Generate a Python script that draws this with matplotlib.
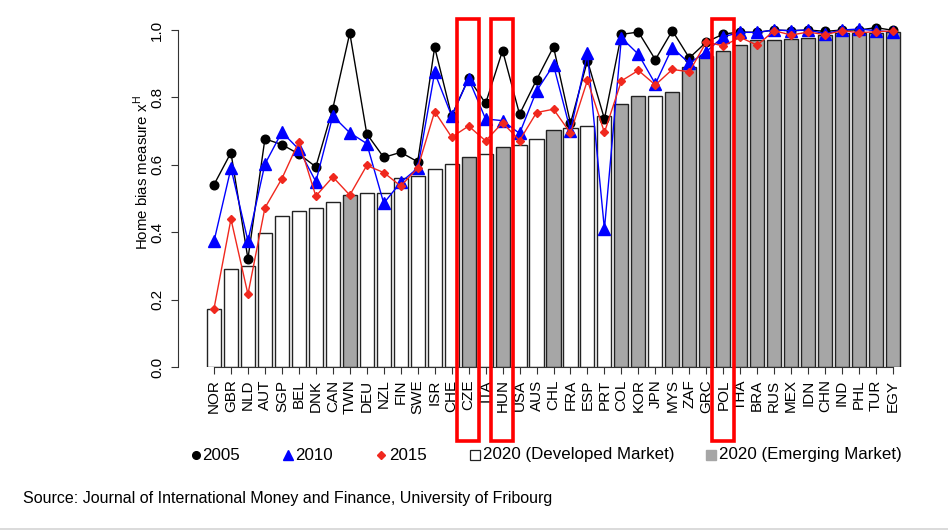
import matplotlib
matplotlib.use("Agg")
import matplotlib.pyplot as plt
import matplotlib.transforms as mtransforms
from matplotlib.patches import Rectangle
from matplotlib.lines import Line2D
import numpy as np

plt.rcParams['font.family'] = ['Liberation Sans', 'DejaVu Sans']
plt.rcParams['mathtext.fontset'] = 'custom'
plt.rcParams['mathtext.rm'] = 'Liberation Sans'

countries = ["NOR", "GBR", "NLD", "AUT", "SGP", "BEL", "DNK", "CAN", "TWN", "DEU",
             "NZL", "FIN", "SWE", "ISR", "CHE", "CZE", "ITA", "HUN", "USA", "AUS",
             "CHL", "FRA", "ESP", "PRT", "COL", "KOR", "JPN", "MYS", "ZAF", "GRC",
             "POL", "THA", "BRA", "RUS", "MEX", "IDN", "CHN", "IND", "PHL", "TUR", "EGY"]

emerging = ["TWN", "CZE", "HUN", "CHL", "COL", "KOR", "MYS", "ZAF", "GRC", "POL",
            "THA", "BRA", "RUS", "MEX", "IDN", "CHN", "IND", "PHL", "TUR", "EGY"]

hb2020 = [0.173, 0.291, 0.301, 0.398, 0.447, 0.464, 0.473, 0.489, 0.510, 0.515,
          0.516, 0.562, 0.566, 0.589, 0.603, 0.622, 0.632, 0.653, 0.659, 0.678,
          0.704, 0.708, 0.716, 0.745, 0.779, 0.804, 0.805, 0.815, 0.890, 0.924,
          0.938, 0.955, 0.971, 0.971, 0.974, 0.976, 0.985, 0.992, 0.992, 0.992, 0.994]

hb2005 = [0.541, 0.636, 0.321, 0.677, 0.660, 0.632, 0.594, 0.767, 0.991, 0.692,
          0.622, 0.637, 0.609, 0.949, 0.745, 0.857, 0.782, 0.939, 0.750, 0.852,
          0.950, 0.723, 0.909, 0.736, 0.987, 0.994, 0.912, 0.998, 0.917, 0.964,
          0.988, 0.994, 0.993, 1.000, 0.998, 1.000, 0.996, 1.000, 1.000, 1.007, 0.999]

hb2010 = [0.373, 0.590, 0.374, 0.602, 0.697, 0.646, 0.550, 0.745, 0.695, 0.663,
          0.486, 0.548, 0.590, 0.874, 0.745, 0.855, 0.736, 0.731, 0.693, 0.819,
          0.896, 0.701, 0.931, 0.409, 0.977, 0.928, 0.840, 0.948, 0.901, 0.936,
          0.980, 0.993, 0.993, 1.000, 0.998, 1.000, 0.989, 1.000, 1.003, 0.998, 0.994]

hb2015 = [0.173, 0.439, 0.216, 0.472, 0.559, 0.669, 0.507, 0.564, 0.510, 0.598,
          0.577, 0.537, 0.590, 0.758, 0.682, 0.715, 0.671, 0.725, 0.672, 0.755,
          0.765, 0.694, 0.851, 0.696, 0.849, 0.880, 0.837, 0.883, 0.876, 0.964,
          0.953, 0.978, 0.955, 0.998, 0.985, 0.994, 0.986, 0.998, 0.992, 0.995, 0.997]

highlighted = ["CZE", "HUN", "POL"]

yticks = [0.0, 0.2, 0.4, 0.6, 0.8, 1.0]
ytick_labels = ["0.0", "0.2", "0.4", "0.6", "0.8", "1.0"]

legend_labels = ["2005", "2010", "2015", "2020 (Developed Market)", "2020 (Emerging Market)"]
source_text = "Source: Journal of International Money and Finance, University of Fribourg"

GRAY = "#a6a6a6"
RED = "#f0281e"
BLUE = "#0000ff"

W, H = 948, 531
fig = plt.figure(figsize=(W / 100, H / 100), dpi=100)
ax = fig.add_axes([178 / W, (H - 367) / H, (929 - 178) / W, 337 / H])

x = np.arange(len(countries))
colors = [GRAY if c in emerging else "white" for c in countries]
ax.bar(x, hb2020, width=0.83, color=colors, edgecolor="#222222", linewidth=1.0, zorder=1)

ax.plot(x, hb2005, color="black", lw=1.0, marker="o", ms=6.2, mfc="black", mec="black",
        zorder=3, clip_on=False)
ax.plot(x, hb2010, color=BLUE, lw=1.0, marker="^", ms=8, mfc=BLUE, mec=BLUE,
        zorder=4, clip_on=False)
ax.plot(x, hb2015, color=RED, lw=1.0, marker="D", ms=4.5, mfc=RED, mec=RED,
        zorder=5, clip_on=False)

ax.set_xlim(-2.12, len(countries) - 1 + 2.12)
ax.set_ylim(0, 1)

for s in ["top", "right"]:
    ax.spines[s].set_visible(False)
ax.spines["left"].set_bounds(0, 1)
ax.spines["bottom"].set_bounds(0, len(countries) - 1)
ax.spines["left"].set_color("#333333")
ax.spines["bottom"].set_color("#333333")

ax.set_yticks(yticks)
ax.set_yticklabels(ytick_labels, rotation=90, va="center", fontsize=11)
ax.set_xticks(x)
ax.set_xticklabels(countries, rotation=90, fontsize=11, va="top", ha="center")
ax.tick_params(axis="both", direction="out", length=5, width=0.8, color="#333333")
ax.tick_params(axis="y", pad=5)
ax.tick_params(axis="x", pad=4)

fig.text(141 / W, 1 - 173 / H, r"Home bias measure x$^{\mathrm{H}}$", rotation=90,
         ha="center", va="center", fontsize=10.8)

# red highlight boxes
trans = mtransforms.blended_transform_factory(ax.transData, ax.transAxes)
y_lo = (367 - 441) / 337
y_hi = (367 - 19) / 337
for c in highlighted:
    i = countries.index(c)
    r = Rectangle((i - 0.68, y_lo), 1.3, y_hi - y_lo, transform=trans, fill=False,
                  edgecolor="#ff0000", linewidth=2.6, clip_on=False, zorder=10)
    ax.add_patch(r)

# legend (manual)
ly = 1 - 455 / H
marker_x = [196, 288, 381, 475, 711]
text_x = [202, 295, 389, 483, 719]
mk = [dict(marker="o", ms=5.5, mfc="black", mec="black"),
      dict(marker="^", ms=7, mfc=BLUE, mec=BLUE),
      dict(marker="D", ms=4.2, mfc=RED, mec=RED),
      dict(marker="s", ms=6.5, mfc="white", mec="#222222", mew=0.9),
      dict(marker="s", ms=7, mfc=GRAY, mec=GRAY)]
for mx, tx, lab, m in zip(marker_x, text_x, legend_labels, mk):
    fig.add_artist(Line2D([mx / W], [ly], linestyle="none", transform=fig.transFigure, **m))
    fig.text(tx / W, ly, lab, ha="left", va="center", fontsize=12.2)

fig.text(23 / W, 1 - 499 / H, source_text, ha="left", va="center", fontsize=11.5)
fig.add_artist(Line2D([0, 1], [1 - 529 / H, 1 - 529 / H], color="#d4d4d4", lw=1.2,
                      transform=fig.transFigure))

fig.savefig("out.png", dpi=100)
